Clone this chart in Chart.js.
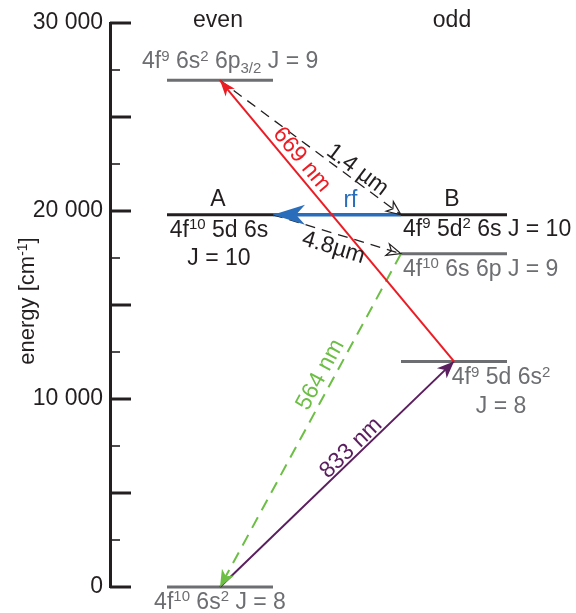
<!DOCTYPE html>
<html>
<head>
<meta charset="utf-8">
<script src="https://cdn.jsdelivr.net/npm/chart.js@4.4.1/dist/chart.umd.min.js"></script>
<style>
  html, body { margin: 0; padding: 0; background: #fff; }
  #wrap { width: 576px; height: 613px; position: relative; }
</style>
</head>
<body>
<div id="wrap"><canvas id="scheme"></canvas></div>
<script>
// ---- data ----
// energy levels in cm^-1
const levelEnergy = [0, 26950, 19800, 19800, 17730, 12000];
const levelSide = ['even', 'even', 'even', 'odd', 'odd', 'odd'];
const levelDark = [false, false, true, true, false, false];
const levelText = [
    '4f^{10} 6s^{2} J = 8',
    '4f^{9} 6s^{2} 6p_{3/2} J = 9',
    '4f^{10} 5d 6s|J = 10',
    '4f^{9} 5d^{2} 6s J = 10',
    '4f^{10} 6s 6p J = 9',
    '4f^{9} 5d 6s^{2}|J = 8'
];
const levelTag = ['', '', 'A', 'B', '', ''];

// transitions (level index -> level index)
const transName = ['669 nm', '833 nm', '564 nm', '1.4 µm', '4.8µm', 'rf'];
const transFrom = [5, 0, 4, 1, 2, 3];
const transTo = [1, 5, 0, 3, 4, 2];

const columnNames = ['even', 'odd'];
const yLabelled = [0, 10000, 20000, 30000];

// ---- look ----
const FONT = '"Liberation Sans", Arial, Helvetica, sans-serif';
const BLACK = '#231f20';
const GREY = '#6d6e71';
const span = { even: [57, 163], odd: [291, 397] };   // x units, scale 0..460

const transAnchor = [['mid', 'mid'], ['mid', 'mid'], ['left', 'mid'], ['mid', 'left'], ['right', 'left'], ['left', 'right']];
const transStyle = [
    { color: '#ec1c24', width: 2, dash: [], head: 'fill', len: 16, half: 6 },
    { color: '#5b1f5f', width: 2, dash: [], head: 'fill', len: 17, half: 7 },
    { color: '#6cbe45', width: 2, dash: [12, 8], head: 'fill', len: 17, half: 7 },
    { color: BLACK, width: 1.3, dash: [10, 7], head: 'open', len: 14, half: 6 },
    { color: BLACK, width: 1.3, dash: [10, 7], head: 'open', len: 14, half: 6 },
    { color: '#2a6ebb', width: 3.5, dash: [], head: 'fill', len: 32, half: 10 }
];
// label position along the arrow: fraction t, offset perpendicular to text
const transLabelPos = [[0.69, 12], [0.587, 9], [0.382, 13], [0.726, 10], [0.504, -14], [0.395, 14]];

function anchorX(i, which) {
    const s = span[levelSide[i]];
    if (which === 'left') return s[0];
    if (which === 'right') return s[1];
    return (s[0] + s[1]) / 2;
}

function fmt(v) {
    return String(v).replace(/\B(?=(\d{3})+(?!\d))/g, ' ');
}

function parseRich(s) {
    const out = [];
    const re = /([\^_])\{([^}]*)\}/g;
    let last = 0, m;
    while ((m = re.exec(s))) {
        if (m.index > last) out.push([s.slice(last, m.index), 'n']);
        out.push([m[2], m[1] === '^' ? 'sup' : 'sub']);
        last = re.lastIndex;
    }
    if (last < s.length) out.push([s.slice(last), 'n']);
    return out;
}

function drawRich(ctx, str, x, y, align, color, size) {
    const parts = parseRich(str);
    const small = Math.round(size * 0.64);
    let w = 0;
    parts.forEach(p => {
        ctx.font = (p[1] === 'n' ? size : small) + 'px ' + FONT;
        p.w = ctx.measureText(p[0]).width;
        w += p.w;
    });
    let cx = align === 'center' ? x - w / 2 : (align === 'right' ? x - w : x);
    ctx.fillStyle = color;
    ctx.textAlign = 'left';
    ctx.textBaseline = 'alphabetic';
    parts.forEach(p => {
        let dy = 0;
        if (p[1] === 'sup') dy = -size * 0.33;
        if (p[1] === 'sub') dy = size * 0.22;
        ctx.font = (p[1] === 'n' ? size : small) + 'px ' + FONT;
        ctx.fillText(p[0], cx, y + dy);
        cx += p.w;
    });
}

// level label layout: [anchor, dx, align, dy, line gap]
const levelLabelPos = [
    ['mid', 0, 'center', 22, 0],
    ['left', -25, 'left', -12, 0],
    ['mid', -1, 'center', 22, 28],
    ['left', 2, 'left', 21, 0],
    ['left', 2, 'left', 22, 0],
    ['mid', 47, 'center', 23, 29]
];

const datasets = [];
levelEnergy.forEach((e, i) => {
    const s = span[levelSide[i]];
    datasets.push({
        data: [{ x: s[0], y: e }, { x: s[1], y: e }],
        showLine: true,
        borderColor: levelDark[i] ? BLACK : GREY,
        borderWidth: 3,
        pointRadius: 0,
        clip: false,
        order: 2
    });
});
transName.forEach((n, k) => {
    const a = transFrom[k], b = transTo[k];
    const st = transStyle[k];
    datasets.push({
        data: [
            { x: anchorX(a, transAnchor[k][0]), y: levelEnergy[a] },
            { x: anchorX(b, transAnchor[k][1]), y: levelEnergy[b] }
        ],
        showLine: true,
        borderColor: st.color,
        borderWidth: st.width,
        borderDash: st.dash,
        pointRadius: 0,
        clip: false,
        order: 1
    });
});

function arrowHead(ctx, p0, p1, st) {
    const ang = Math.atan2(p1.y - p0.y, p1.x - p0.x);
    ctx.save();
    ctx.translate(p1.x, p1.y);
    ctx.rotate(ang);
    ctx.beginPath();
    ctx.moveTo(0, 0);
    ctx.lineTo(-st.len, -st.half);
    ctx.lineTo(-st.len * 0.72, 0);
    ctx.lineTo(-st.len, st.half);
    ctx.closePath();
    if (st.head === 'fill') {
        ctx.fillStyle = st.color;
        ctx.fill();
    } else {
        ctx.setLineDash([]);
        ctx.lineWidth = 1.2;
        ctx.strokeStyle = st.color;
        ctx.stroke();
    }
    ctx.restore();
}

const schemePlugin = {
    id: 'scheme',
    afterDatasetsDraw(chart) {
        const ctx = chart.ctx;
        const nLev = levelEnergy.length;
        transName.forEach((n, k) => {
            const pts = chart.getDatasetMeta(nLev + k).data;
            arrowHead(ctx, pts[0], pts[1], transStyle[k]);
        });
    },
    afterDraw(chart) {
        const ctx = chart.ctx;
        const xs = chart.scales.x, ys = chart.scales.y;
        const area = chart.chartArea;
        const nLev = levelEnergy.length;

        // inward tick marks
        ctx.save();
        ctx.strokeStyle = BLACK;
        ys.ticks.forEach(t => {
            const py = ys.getPixelForValue(t.value);
            const major = t.value % 5000 === 0;
            ctx.lineWidth = major ? 3 : 1.6;
            ctx.beginPath();
            ctx.moveTo(area.left, py);
            ctx.lineTo(area.left + (major ? 21 : 10), py);
            ctx.stroke();
        });
        ctx.restore();

        // axis title
        ctx.save();
        ctx.translate(26, 301);
        ctx.rotate(-Math.PI / 2);
        drawRich(ctx, 'energy [cm^{-1}]', 0, 8, 'center', BLACK, 22);
        ctx.restore();

        // column headings
        ctx.save();
        columnNames.forEach(c => {
            const s = span[c];
            ctx.font = '23px ' + FONT;
            ctx.fillStyle = BLACK;
            ctx.textAlign = 'center';
            ctx.textBaseline = 'alphabetic';
            ctx.fillText(c, xs.getPixelForValue((s[0] + s[1]) / 2) - 2, 27);
        });
        ctx.restore();

        // level labels
        ctx.save();
        levelText.forEach((txt, i) => {
            const pos = levelLabelPos[i];
            const px = xs.getPixelForValue(anchorX(i, pos[0])) + pos[1];
            const py = ys.getPixelForValue(levelEnergy[i]);
            const color = levelDark[i] ? BLACK : GREY;
            txt.split('|').forEach((line, j) => {
                drawRich(ctx, line, px, py + pos[3] + j * pos[4], pos[2], color, 23);
            });
            if (levelTag[i]) {
                drawRich(ctx, levelTag[i], xs.getPixelForValue(anchorX(i, 'mid')) - 2, py - 9, 'center', BLACK, 23);
            }
        });
        ctx.restore();

        // transition labels
        transName.forEach((n, k) => {
            const pts = chart.getDatasetMeta(nLev + k).data;
            const p0 = pts[0], p1 = pts[1];
            let ang = Math.atan2(p1.y - p0.y, p1.x - p0.x);
            if (ang > Math.PI / 2) ang -= Math.PI;
            if (ang < -Math.PI / 2) ang += Math.PI;
            const t = transLabelPos[k][0], off = transLabelPos[k][1];
            const cx = p0.x + (p1.x - p0.x) * t + off * Math.sin(ang);
            const cy = p0.y + (p1.y - p0.y) * t - off * Math.cos(ang);
            ctx.save();
            ctx.translate(cx, cy);
            ctx.rotate(ang);
            ctx.font = '23px ' + FONT;
            ctx.fillStyle = transStyle[k].color;
            ctx.textAlign = 'center';
            ctx.textBaseline = 'middle';
            ctx.fillText(n, 0, 0);
            ctx.restore();
        });
    }
};

new Chart(document.getElementById('scheme'), {
    type: 'scatter',
    data: { datasets: datasets },
    options: {
        responsive: true,
        maintainAspectRatio: false,
        animation: false,
        events: [],
        layout: { padding: { top: 23, bottom: 26, left: 0, right: 6 } },
        plugins: { legend: { display: false }, tooltip: { enabled: false } },
        scales: {
            x: { type: 'linear', min: 0, max: 460, display: false },
            y: {
                type: 'linear',
                min: 0,
                max: 30000,
                afterFit: s => { s.width = 110; },
                border: { display: true, color: BLACK, width: 3 },
                grid: { display: true, drawOnChartArea: false, drawTicks: false },
                ticks: {
                    stepSize: 2500,
                    maxTicksLimit: 20,
                    autoSkip: false,
                    padding: 7,
                    color: BLACK,
                    font: { family: FONT, size: 23 },
                    callback: v => yLabelled.includes(v) ? fmt(v) : ''
                }
            }
        }
    },
    plugins: [schemePlugin]
});
</script>
</body>
</html>
